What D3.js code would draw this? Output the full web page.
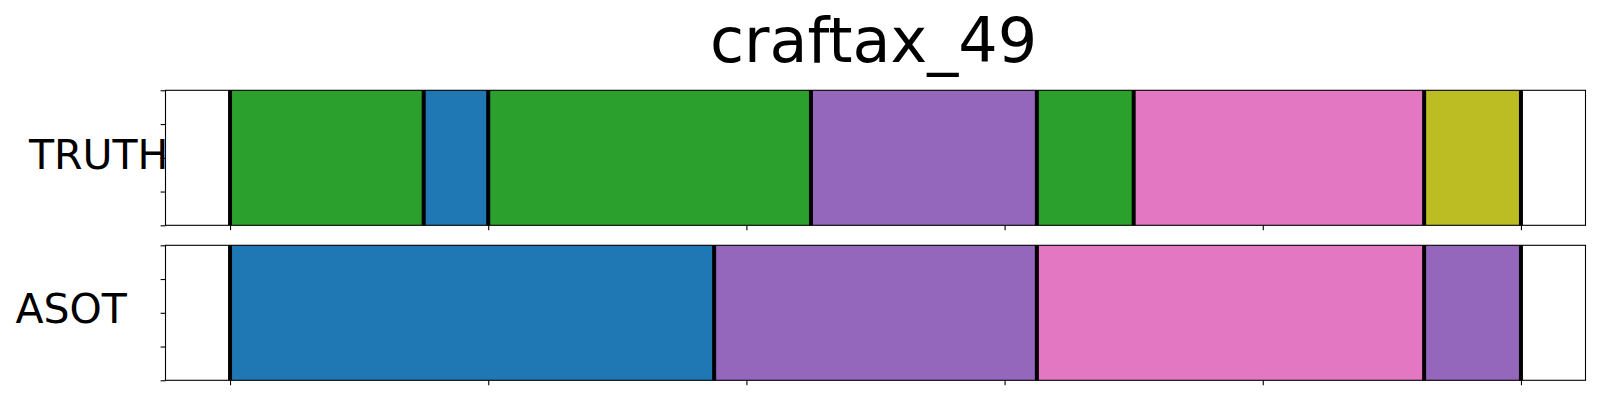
<!DOCTYPE html>
<html>
<head>
<meta charset="utf-8">
<script src="https://cdn.jsdelivr.net/npm/d3@7"></script>
<style>
  html, body { margin: 0; padding: 0; background: #fff; }
  svg { display: block; }
  text { font-family: "DejaVu Sans", sans-serif; fill: #000; }
</style>
</head>
<body>
<svg id="chart" width="1600" height="400"></svg>
<script>
const title = "craftax_49";
const rowNames = ["TRUTH", "ASOT"];
const truthBounds = [0, 150, 200, 450, 625, 700, 925, 1000];
const truthClasses = [2, 0, 2, 4, 2, 6, 8];
const asotBounds = [0, 375, 625, 925, 1000];
const asotClasses = [0, 4, 6, 4];
const xTicks = [0, 200, 400, 600, 800, 1000];
const yTicks = [0, 0.25, 0.5, 0.75, 1];

const rows = [
  { name: rowNames[0], bounds: truthBounds, classes: truthClasses, top: 90.3, labelX: 29, labelY: 169.3 },
  { name: rowNames[1], bounds: asotBounds, classes: asotClasses, top: 245.3, labelX: 15.5, labelY: 323.3 }
];

const svg = d3.select("#chart");
const left = 165.5, right = 1585.5, axH = 135;
const x = d3.scaleLinear().domain([-50, 1050]).range([left, right]);
const color = d3.scaleOrdinal().domain(d3.range(10)).range(d3.schemeCategory10);

svg.append("text")
  .attr("x", (left + right) / 2 - 2)
  .attr("y", 61.7)
  .attr("text-anchor", "middle")
  .style("font-size", "62px")
  .text(title);

rows.forEach(r => {
  const y = d3.scaleLinear().domain([0, 1]).range([r.top + axH, r.top]);
  const g = svg.append("g");
  const segs = r.classes.map((c, i) => ({ c, s: r.bounds[i], e: r.bounds[i + 1] }));
  g.selectAll("rect.seg").data(segs).join("rect")
    .attr("class", "seg")
    .attr("x", d => x(d.s))
    .attr("width", d => x(d.e) - x(d.s))
    .attr("y", y(1))
    .attr("height", y(0) - y(1))
    .attr("fill", d => color(d.c));
  g.selectAll("line.bnd").data(r.bounds).join("line")
    .attr("class", "bnd")
    .attr("x1", d => x(d)).attr("x2", d => x(d))
    .attr("y1", y(1)).attr("y2", y(0))
    .attr("stroke", "#000").attr("stroke-width", 4);
  g.append("rect")
    .attr("x", left).attr("y", r.top)
    .attr("width", right - left).attr("height", axH)
    .attr("fill", "none").attr("stroke", "#000").attr("stroke-width", 1.1);
  const xa = g.append("g").attr("transform", `translate(0,${r.top + axH})`)
    .call(d3.axisBottom(x).tickValues(xTicks).tickFormat("").tickSize(4.9).tickSizeOuter(0));
  const ya = g.append("g").attr("transform", `translate(${left},0)`)
    .call(d3.axisLeft(y).tickValues(yTicks).tickFormat("").tickSize(4.9).tickSizeOuter(0));
  [xa, ya].forEach(a => {
    a.select(".domain").remove();
    a.selectAll(".tick line").attr("stroke", "#000").attr("stroke-width", 1.1);
  });
  svg.append("text")
    .attr("x", r.labelX)
    .attr("y", r.labelY)
    .style("font-size", "41px")
    .text(r.name);
});
</script>
</body>
</html>
